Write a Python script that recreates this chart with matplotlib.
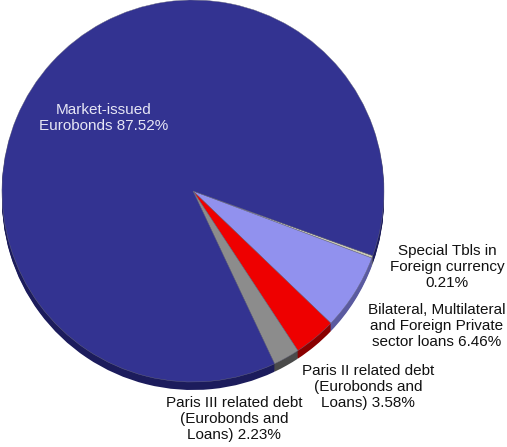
import matplotlib
matplotlib.use("Agg")
import matplotlib.pyplot as plt

labels = ["Special Tbls in\nForeign currency\n0.21%",
          "Bilateral, Multilateral\nand Foreign Private\nsector loans 6.46%",
          "Paris II related debt\n(Eurobonds and\nLoans) 3.58%",
          "Paris III related debt\n(Eurobonds and\nLoans) 2.23%",
          "Market-issued\nEurobonds 87.52%"]
values = [0.21, 6.46, 3.58, 2.23, 87.52]
colors = ["#c8c8b4", "#9191ee", "#ee0000", "#8c8c8c", "#333391"]
side_colors = ["#77776a", "#5a5aa0", "#8a0000", "#4a4a4a", "#1c1c5c"]

W, H = 507, 447
fig = plt.figure(figsize=(W / 100, H / 100), dpi=100)
ax = fig.add_axes([0, 0, 1, 1])

cx, cy, r = 193, H - 191, 191
start = -19.8
# depth (side) of the 3D pie
for off in range(8, 0, -1):
    ax.pie(values, colors=side_colors, startangle=start, counterclock=False,
           center=(cx, cy - off), radius=r, frame=True,
           wedgeprops=dict(linewidth=0))
ax.pie(values, colors=colors, startangle=start, counterclock=False,
       center=(cx, cy), radius=r, frame=True,
       wedgeprops=dict(linewidth=0.3, edgecolor="#6a6a80"))
ax.set_xlim(0, W)
ax.set_ylim(0, H)
ax.set_aspect("equal")
ax.axis("off")

fs = 11
fam = ["Liberation Sans", "DejaVu Sans"]
pos = [(447, 267), (437, 326), (368, 387), (234, 419), (104, 118)]
for i, (lab, (x, y)) in enumerate(zip(labels, pos)):
    col = "#e6e6f5" if i == 4 else "#111111"
    ax.text(x, H - y, lab, ha="center", va="center", fontsize=fs,
            family=fam, color=col, linespacing=1.2)

fig.savefig("out.png", dpi=100)
